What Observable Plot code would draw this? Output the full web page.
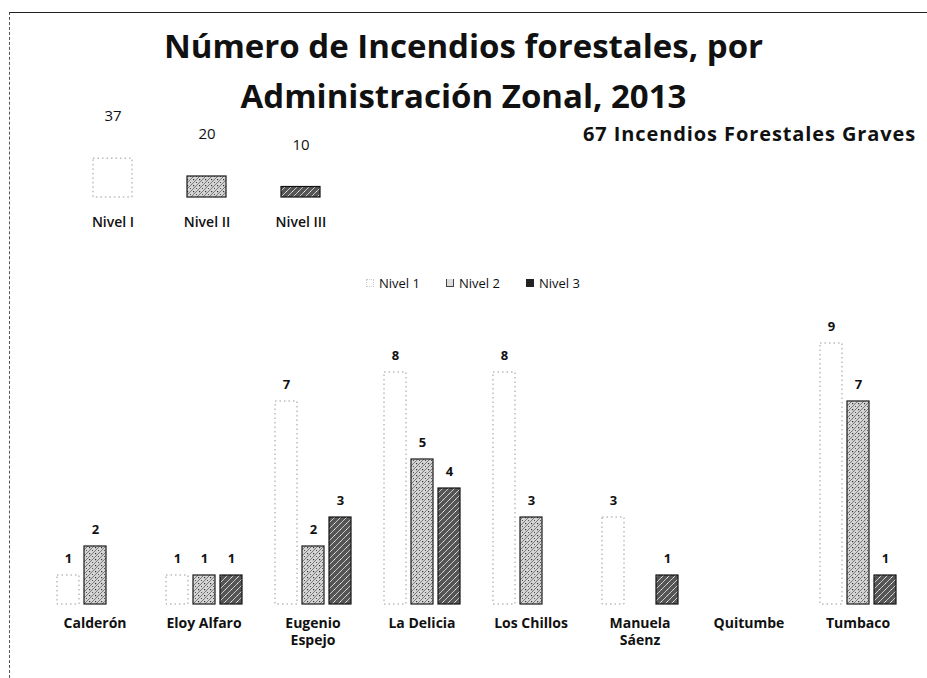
<!DOCTYPE html>
<html>
<head>
<meta charset="utf-8">
<script src="https://cdn.jsdelivr.net/npm/d3@7"></script>
<script src="https://cdn.jsdelivr.net/npm/@observablehq/plot@0.6"></script>
<style>
  html, body { margin: 0; padding: 0; background: #fff; }
  body { width: 927px; height: 678px; overflow: hidden; font-family: "Open Sans", "Noto Sans", sans-serif; color: #111; }
  #frame { position: absolute; left: 9px; top: 12px; width: 918px; height: 666px;
           border-top: 1.5px solid #222; border-left: 1px dashed #555; box-sizing: border-box; }
  #title { position: absolute; left: 0; top: 21px; width: 927px; text-align: center;
           font-size: 33px; font-weight: 700; line-height: 50px; color: #111; }
  #total { position: absolute; left: 583px; top: 120px; font-size: 20px; font-weight: 700; white-space: nowrap; letter-spacing: 0.9px; }
  #legend { position: absolute; left: 366px; top: 274px; font-size: 13px; display: flex; align-items: center; white-space: nowrap; }
  #legend .sw { display: inline-block; width: 8px; height: 8px; margin-right: 5px; box-sizing: border-box; }
  #legend .item { display: flex; align-items: center; margin-right: 26px; }
  #summary { position: absolute; left: 0; top: 100px; }
  #main { position: absolute; left: 0; top: 300px; }
  svg { overflow: visible; font-family: "Open Sans", "Noto Sans", sans-serif; }
  #main g[aria-label="fx-axis tick label"] text { font-weight: 700; font-size: 14px; fill: #111; }
  #summary g[aria-label="x-axis tick label"] text { font-weight: 600; font-size: 14px; fill: #111; }
</style>
</head>
<body>
<svg width="0" height="0" style="position:absolute">
  <defs>
    <pattern id="p2" width="6" height="6" patternUnits="userSpaceOnUse">
      <rect width="6" height="6" fill="#d4d4d4"/>
      <path d="M0,6 L6,0" stroke="#7a7a7a" stroke-width="1"/>
      <rect x="1" y="1" width="1.2" height="1.2" fill="#333"/>
      <rect x="4" y="4" width="1" height="1" fill="#555"/>
    </pattern>
    <pattern id="p3" width="6" height="6" patternUnits="userSpaceOnUse">
      <rect width="6" height="6" fill="#555"/>
      <path d="M0,6 L6,0" stroke="#c8c8c8" stroke-width="1"/>
      <rect x="4" y="1" width="1" height="1" fill="#eee"/>
    </pattern>
  </defs>
</svg>
<div id="frame"></div>
<div id="title">Número de Incendios forestales, por<br>Administración Zonal, 2013</div>
<div id="total">67 Incendios Forestales Graves</div>
<div id="summary"></div>
<div id="legend"></div>
<div id="main"></div>
<script>
// ---- data ----
const zonas = ["Calderón", "Eloy Alfaro", "Eugenio\nEspejo", "La Delicia", "Los Chillos", "Manuela\nSáenz", "Quitumbe", "Tumbaco"];
const niveles = ["Nivel 1", "Nivel 2", "Nivel 3"];
const nivel1 = [1, 1, 7, 8, 8, 3, 0, 9];
const nivel2 = [2, 1, 2, 5, 3, 0, 0, 7];
const nivel3 = [0, 1, 3, 4, 0, 1, 0, 1];
const resumenLabels = ["Nivel I", "Nivel II", "Nivel III"];
const resumenValues = [37, 20, 10];

// ---- styles per series ----
const seriesStyle = {
  "Nivel 1": {fill: "#ffffff", stroke: "#9a9a9a", strokeDasharray: "1.5,3", strokeWidth: 1},
  "Nivel 2": {fill: "url(#p2)", stroke: "#1a1a1a", strokeWidth: 1.2},
  "Nivel 3": {fill: "url(#p3)", stroke: "#111", strokeWidth: 1.2}
};

const series = [nivel1, nivel2, nivel3];
const rows = [];
zonas.forEach((z, i) => {
  niveles.forEach((n, j) => rows.push({zona: z, nivel: n, value: series[j][i]}));
});
const shown = rows.filter(d => d.value > 0);

// ---- main chart ----
const main = Plot.plot({
  width: 927,
  height: 378,
  marginTop: 43,
  marginBottom: 74,
  marginLeft: 52,
  marginRight: 27,
  style: {background: "transparent", color: "#111"},
  fx: {domain: zonas, paddingInner: 0.29, paddingOuter: 0, label: null},
  x: {domain: niveles, paddingInner: 0.2, paddingOuter: 0, axis: null},
  y: {domain: [0, 9], axis: null},
  marks: [
    ...niveles.map(n => Plot.barY(shown.filter(d => d.nivel === n), {
      fx: "zona", x: "nivel", y: "value", ...seriesStyle[n]
    })),
    Plot.text(shown, {
      fx: "zona", x: "nivel", y: "value", text: d => String(d.value),
      dy: -17, fontSize: 13, fontWeight: 700, fill: "#111"
    }),
    Plot.axisFx({anchor: "bottom", tickSize: 0, tickPadding: 11, fontSize: 14, fontWeight: 700, lineHeight: 1.25, label: null})
  ]
});
document.getElementById("main").appendChild(main);

// ---- summary chart ----
const resumen = resumenLabels.map((l, i) => ({nivel: l, value: resumenValues[i], key: niveles[i]}));
const summary = Plot.plot({
  width: 360,
  height: 135,
  marginTop: 55,
  marginBottom: 38,
  marginLeft: 66,
  marginRight: 12,
  style: {background: "transparent", color: "#111"},
  x: {domain: resumenLabels, paddingInner: 0.58, paddingOuter: 0.29, label: null},
  y: {domain: [0, 40], axis: null},
  marks: [
    ...resumen.map(d => Plot.barY([d], {x: "nivel", y: "value", ...seriesStyle[d.key]})),
    Plot.text(resumen, {x: "nivel", y: "value", text: d => String(d.value), dy: -42, fontSize: 15, fontWeight: 500, fill: "#111"}),
    Plot.axisX({anchor: "bottom", tickSize: 0, tickPadding: 20, fontSize: 14, label: null})
  ]
});
document.getElementById("summary").appendChild(summary);

// ---- legend ----
const legend = document.getElementById("legend");
niveles.forEach(n => {
  const item = document.createElement("span");
  item.className = "item";
  const sw = document.createElement("span");
  sw.className = "sw";
  if (n === "Nivel 1") { sw.style.border = "1px dotted #ccc"; sw.style.background = "#fff"; }
  else if (n === "Nivel 2") { sw.style.border = "1px solid #444"; sw.style.borderTop = "none"; sw.style.background = "#ddd"; }
  else { sw.style.background = "#222"; }
  item.appendChild(sw);
  item.appendChild(document.createTextNode(n));
  legend.appendChild(item);
});
</script>
</body>
</html>
